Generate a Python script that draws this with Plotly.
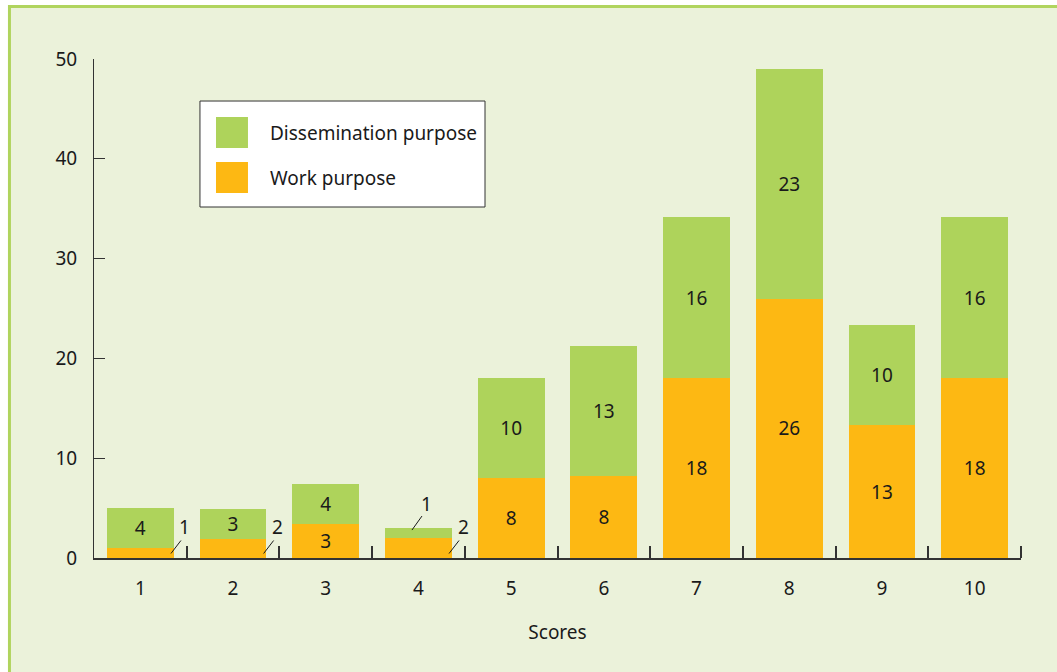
import plotly.graph_objects as go

categories = [1, 2, 3, 4, 5, 6, 7, 8, 9, 10]
work_values = [1.0, 1.9, 3.4, 2.0, 8.0, 8.2, 18.0, 26.0, 13.3, 18.0]
diss_values = [4.0, 3.0, 4.0, 1.0, 10.0, 13.0, 16.2, 23.0, 10.0, 16.2]
work_labels = ["1", "2", "3", "2", "8", "8", "18", "26", "13", "18"]
diss_labels = ["4", "3", "4", "1", "10", "13", "16", "23", "10", "16"]
# which labels are drawn outside with a leader line
work_outside = [True, True, False, True, False, False, False, False, False, False]
diss_outside = [False, False, False, True, False, False, False, False, False, False]
y_ticks = [0, 10, 20, 30, 40, 50]
series_names = ["Dissemination purpose", "Work purpose"]
x_title = "Scores"

GREEN = "#aed35b"
ORANGE = "#fdb813"
BG = "#ebf2da"
BORDER = "#b0d45e"
AXIS = "#333333"
TXT = "#1a1a1a"
FONT = "Noto Sans"
FS = 19

fig = go.Figure()
fig.add_trace(go.Bar(
    x=categories, y=work_values, name=series_names[1], marker_color=ORANGE,
    marker_line_width=0, width=0.72,
    text=["" if o else t for t, o in zip(work_labels, work_outside)],
    textposition="inside", insidetextanchor="middle", constraintext="none",
    textfont=dict(size=FS, color=TXT, family=FONT), textangle=0,
    hoverinfo="skip",
))
fig.add_trace(go.Bar(
    x=categories, y=diss_values, name=series_names[0], marker_color=GREEN,
    marker_line_width=0, width=0.72,
    text=["" if o else t for t, o in zip(diss_labels, diss_outside)],
    textposition="inside", insidetextanchor="middle", constraintext="none",
    textfont=dict(size=FS, color=TXT, family=FONT), textangle=0,
    hoverinfo="skip",
))

annotations = []
shapes = [
    # outer panel with border
    dict(type="rect", xref="paper", yref="paper", x0=-0.0912, x1=1.06, y0=-0.3, y1=1.105,
         fillcolor=BG, line=dict(color=BORDER, width=3), layer="below"),
]


def leader(x, y, label, lx, ly, tx, ty):
    # leader line drawn in pixels from the anchor point, plus its label
    shapes.append(dict(
        type="line", xref="x", yref="y", xsizemode="pixel", ysizemode="pixel",
        xanchor=x, yanchor=y, x0=0, y0=0, x1=lx, y1=ly,
        line=dict(color=TXT, width=1), layer="above"))
    annotations.append(dict(
        x=x, y=y, xref="x", yref="y", text=label, showarrow=True, arrowwidth=0.1,
        arrowcolor="rgba(0,0,0,0)", ax=tx, ay=ty,
        font=dict(size=FS, color=TXT, family=FONT)))


for i, c in enumerate(categories):
    if work_outside[i]:
        leader(c + 0.33, 0.45, work_labels[i], 10, 13, 14, -27)
    if diss_outside[i]:
        leader(c - 0.07, work_values[i] + 0.8, diss_labels[i], 10, 14, 15, -26)

shapes += [
    # legend box
    dict(type="rect", xref="paper", yref="paper", x0=0.1143, x1=0.4218, y0=0.7034, y1=0.9158,
         fillcolor="white", line=dict(color=AXIS, width=1), layer="above"),
    dict(type="rect", xref="paper", yref="paper", x0=0.1316, x1=0.1661, y0=0.8216, y1=0.8838,
         fillcolor=GREEN, line=dict(width=0), layer="above"),
    dict(type="rect", xref="paper", yref="paper", x0=0.1316, x1=0.1661, y0=0.7315, y1=0.7936,
         fillcolor=ORANGE, line=dict(width=0), layer="above"),
]
annotations += [
    dict(x=0.1877, y=0.8527, xref="paper", yref="paper", text=series_names[0], showarrow=False,
         xanchor="left", yanchor="middle", font=dict(size=FS, color=TXT, family=FONT)),
    dict(x=0.1877, y=0.7625, xref="paper", yref="paper", text=series_names[1], showarrow=False,
         xanchor="left", yanchor="middle", font=dict(size=FS, color=TXT, family=FONT)),
]

fig.update_layout(
    barmode="stack",
    width=1057, height=672,
    margin=dict(l=94, r=36, t=59, b=114),
    paper_bgcolor="white", plot_bgcolor="rgba(0,0,0,0)",
    showlegend=False,
    hovermode=False,
    font=dict(family=FONT, size=FS, color=TXT),
    shapes=shapes, annotations=annotations,
    xaxis=dict(
        range=[0.5, 10.5], tickmode="array", tickvals=categories,
        ticktext=[str(c) for c in categories], ticks="",
        showline=True, linecolor=AXIS, linewidth=1.5, showgrid=False, zeroline=False,
        ticklabelstandoff=12,
        minor=dict(tickmode="array", tickvals=[c + 0.5 for c in categories],
                   ticks="inside", ticklen=12, tickcolor=AXIS, tickwidth=1.5, showgrid=False),
        title=dict(text=x_title, standoff=26, font=dict(size=FS)),
    ),
    yaxis=dict(
        range=[0, 50], tickmode="array", tickvals=y_ticks,
        ticks="inside", ticklen=11, tickcolor=AXIS, tickwidth=1,
        showline=True, linecolor=AXIS, linewidth=1, showgrid=False, zeroline=False,
        ticklabelstandoff=12,
    ),
)

fig.write_html("out.html", config={"displayModeBar": False},
               post_script="document.body.style.margin='0';")
